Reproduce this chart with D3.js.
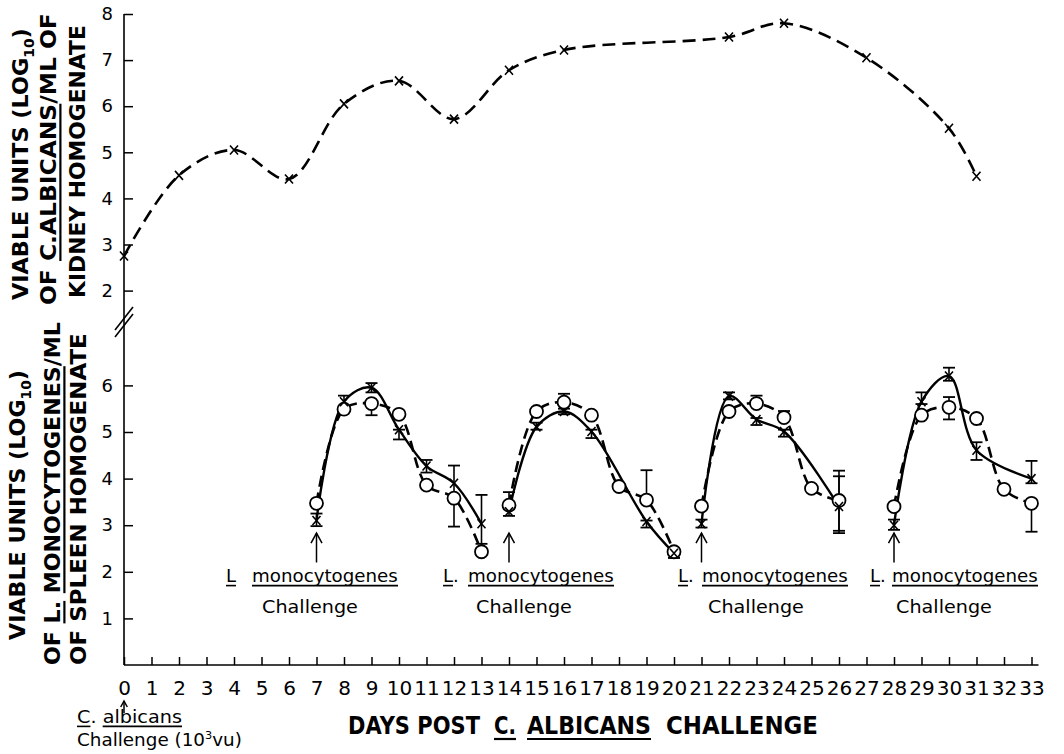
<!DOCTYPE html>
<html>
<head>
<meta charset="utf-8">
<script src="https://cdn.jsdelivr.net/npm/d3@7"></script>
<style>
  body { margin: 0; background: #fff; }
  svg { display: block; }
  text { font-family: "DejaVu Sans", sans-serif; fill: #000; }
</style>
</head>
<body>
<div id="vis"></div>
<script>
const WIDTH = 1064;
const HEIGHT = 754;

// C. albicans in kidney, log10 viable units
const kidneyDays = [0, 2, 4, 6, 8, 10, 12, 14, 16, 22, 24, 27, 30, 31];
const kidneyLog = [2.75, 4.5, 5.05, 4.42, 6.05, 6.55, 5.72, 6.78, 7.22, 7.5, 7.8, 7.05, 5.52, 4.48];

// L. monocytogenes in spleen, one row per challenge
const clusterDays = [
  [7, 8, 9, 10, 11, 12, 13],
  [14, 15, 16, 17, 18, 19, 20],
  [21, 22, 23, 24, 25, 26],
  [28, 29, 30, 31, 32, 33],
];
// "x" series (solid line)
const spleenX = [
  [3.1, 5.65, 5.95, 5.05, 4.27, 3.9, 3.03],
  [3.29, 5.11, 5.44, 5.01, null, 3.08, 2.4],
  [3.03, 5.77, 5.27, 5.01, null, 3.4],
  [3.0, 5.65, 6.2, 4.61, null, 4.0],
];
// "o" series (dashed line)
const spleenO = [
  [3.47, 5.49, 5.61, 5.38, 3.86, 3.58, 2.43],
  [3.43, 5.44, 5.64, 5.36, 3.83, 3.54, 2.43],
  [3.41, 5.44, 5.61, 5.31, 3.79, 3.53],
  [3.4, 5.36, 5.53, 5.29, 3.77, 3.47],
];
// error bars [low, high]
const spleenXErr = [
  [[2.98, 3.25], [5.55, 5.78], [5.85, 6.05], [4.84, 5.05], [4.13, 4.4], null, [2.5, 3.65]],
  [[3.2, 3.35], [5.05, 5.2], [5.38, 5.5], [4.87, 5.05], null, [2.95, 3.1], [2.3, 2.5]],
  [[2.95, 3.12], [5.7, 5.85], [5.15, 5.3], [4.9, 5.05], null, [2.88, 4.05]],
  [[2.9, 3.12], [5.6, 5.85], [6.1, 6.38], [4.4, 4.78], null, [3.9, 4.38]],
];
const spleenOErr = [
  [null, null, [5.36, 5.61], null, null, [2.97, 4.28], [2.43, 2.6]],
  [[3.43, 3.71], null, [5.64, 5.82], null, null, [3.54, 4.18], [2.3, 2.5]],
  [null, null, [5.61, 5.78], [5.31, 5.45], null, [2.83, 4.17]],
  [null, null, [5.27, 5.75], null, null, [2.86, 3.47]],
];

const challengeDays = [7, 14, 21, 28];
const dayTicks = [0, 1, 2, 3, 4, 5, 6, 7, 8, 9, 10, 11, 12, 13, 14, 15, 16,
  17, 18, 19, 20, 21, 22, 23, 24, 25, 26, 27, 28, 29, 30, 31, 32, 33];
const kidneyTicks = [2, 3, 4, 5, 6, 7, 8];
const spleenTicks = [1, 2, 3, 4, 5, 6];

const x = d3.scaleLinear().domain([0, 33]).range([124, 1031.5]);
const yK = d3.scaleLinear().domain([2, 8]).range([290.6, 14]);
const yS = d3.scaleLinear().domain([0, 6]).range([665, 385.4]);

const svg = d3
  .select("#vis")
  .append("svg")
  .attr("width", WIDTH)
  .attr("height", HEIGHT);

svg.append("rect").attr("width", WIDTH).attr("height", HEIGHT).attr("fill", "#fff");

// text with tspans, optional underlines / sub / superscripts
// opts.length squeezes the whole group horizontally to that width
function richText(parent, segs, opts) {
  const g = parent.append("g");
  const t = g
    .append("text")
    .attr("font-size", opts.size)
    .attr("font-weight", opts.weight || "normal");
  let shift = 0;
  const ranges = [];
  let idx = 0;
  segs.forEach((s) => {
    const ts = t.append("tspan").text(s.t);
    let d = -shift;
    shift = 0;
    if (s.sub) { ts.attr("font-size", opts.size * 0.62); shift = opts.size * 0.25; }
    if (s.sup) { ts.attr("font-size", opts.size * 0.62); shift = -opts.size * 0.42; }
    d += shift;
    if (d !== 0) ts.attr("dy", d);
    if (s.u) ranges.push([idx, idx + s.t.length - 1]);
    idx += s.t.length;
  });
  const node = t.node();
  ranges.forEach(([a, b]) => {
    const x0 = node.getStartPositionOfChar(a).x;
    const x1 = node.getEndPositionOfChar(b).x;
    g.append("line")
      .attr("x1", x0).attr("x2", x1)
      .attr("y1", opts.size * 0.2).attr("y2", opts.size * 0.2)
      .attr("stroke", "#000")
      .attr("stroke-width", opts.uw || 1.6);
  });
  const k = opts.length ? opts.length / node.getComputedTextLength() : 1;
  g.attr("transform", `translate(${opts.x},${opts.y})` + (opts.rotate ? " rotate(-90)" : "") + ` scale(${k},1)`);
  return g;
}

// axes lines
svg.append("line").attr("x1", x(0)).attr("x2", x(0)).attr("y1", yK(8)).attr("y2", yS(0))
  .attr("stroke", "#000").attr("stroke-width", 1.6);
svg.append("line").attr("x1", x(0)).attr("x2", x(33) + 7).attr("y1", yS(0)).attr("y2", yS(0))
  .attr("stroke", "#000").attr("stroke-width", 1.6);

// axis break
[0, 7].forEach((o) => {
  svg.append("line")
    .attr("x1", x(0) - 9).attr("y1", 330 + o)
    .attr("x2", x(0) + 9).attr("y2", 307 + o)
    .attr("stroke", "#000").attr("stroke-width", 1.6);
});

function styleAxis(g, size) {
  g.select(".domain").remove();
  g.attr("font-family", "DejaVu Sans").attr("font-size", size);
  g.selectAll(".tick line").attr("stroke-width", 1.5);
}

svg.append("g")
  .attr("transform", `translate(${x(0)},0)`)
  .call(d3.axisLeft(yK).tickValues(kidneyTicks).tickSize(-9).tickPadding(11).tickFormat(d3.format("d")))
  .call((g) => styleAxis(g, 18));

svg.append("g")
  .attr("transform", `translate(${x(0)},0)`)
  .call(d3.axisLeft(yS).tickValues(spleenTicks).tickSize(-9).tickPadding(11).tickFormat(d3.format("d")))
  .call((g) => styleAxis(g, 18));

svg.append("g")
  .attr("transform", `translate(0,${yS(0)})`)
  .call(d3.axisBottom(x).tickValues(dayTicks).tickSize(-8).tickPadding(16).tickFormat(d3.format("d")))
  .call((g) => styleAxis(g, 20));

// arrow under day 0
function arrow(cx, top, bottom, head) {
  svg.append("line").attr("x1", cx).attr("x2", cx).attr("y1", top).attr("y2", bottom)
    .attr("stroke", "#000").attr("stroke-width", 1.5);
  svg.append("path")
    .attr("d", `M${cx - head * 0.55},${top + head} L${cx},${top} L${cx + head * 0.55},${top + head}`)
    .attr("fill", "none").attr("stroke", "#000").attr("stroke-width", 1.5);
}
arrow(x(0), 701, 713, 6);

// kidney curve
const kidney = kidneyDays.map((d, i) => ({ day: d, v: kidneyLog[i] }));
svg.append("path")
  .datum(kidney)
  .attr("d", d3.line().x((d) => x(d.day)).y((d) => yK(d.v)).curve(d3.curveCatmullRom.alpha(0.5)))
  .attr("fill", "none")
  .attr("stroke", "#000")
  .attr("stroke-width", 2.6)
  .attr("stroke-dasharray", "13,7");

const xMark = "M-4,-4.5L4,4.5M-4,4.5L4,-4.5";
svg.append("g")
  .selectAll("path")
  .data(kidney)
  .enter()
  .append("path")
  .attr("transform", (d) => `translate(${x(d.day)},${yK(d.v)})`)
  .attr("d", xMark)
  .attr("fill", "none")
  .attr("stroke", "#000")
  .attr("stroke-width", 1.6);

// spleen clusters
const spleenLine = d3.line().x((d) => x(d.day)).y((d) => yS(d.v)).curve(d3.curveCatmullRom.alpha(0.5));

clusterDays.forEach((days, c) => {
  const xs = days.map((d, i) => ({ day: d, v: spleenX[c][i], err: spleenXErr[c][i] })).filter((d) => d.v != null);
  const os = days.map((d, i) => ({ day: d, v: spleenO[c][i], err: spleenOErr[c][i] })).filter((d) => d.v != null);
  const g = svg.append("g").attr("class", `cluster-${c}`);

  // error bars
  xs.concat(os).filter((d) => d.err).forEach((d) => {
    const cx = x(d.day);
    g.append("line").attr("x1", cx).attr("x2", cx).attr("y1", yS(d.err[0])).attr("y2", yS(d.err[1]))
      .attr("stroke", "#000").attr("stroke-width", 1.6);
    d.err.forEach((e) => {
      g.append("line").attr("x1", cx - 6).attr("x2", cx + 6).attr("y1", yS(e)).attr("y2", yS(e))
        .attr("stroke", "#000").attr("stroke-width", 1.8);
    });
  });

  g.append("path").datum(xs).attr("d", spleenLine)
    .attr("fill", "none").attr("stroke", "#000").attr("stroke-width", 2.4);
  g.append("path").datum(os).attr("d", spleenLine)
    .attr("fill", "none").attr("stroke", "#000").attr("stroke-width", 2.6)
    .attr("stroke-dasharray", "11,6");

  g.selectAll("circle").data(os).enter().append("circle")
    .attr("cx", (d) => x(d.day)).attr("cy", (d) => yS(d.v)).attr("r", 6.5)
    .attr("fill", "#fff").attr("stroke", "#000").attr("stroke-width", 1.8);
  g.selectAll(".xm").data(xs).enter().append("path")
    .attr("class", "xm")
    .attr("transform", (d) => `translate(${x(d.day)},${yS(d.v)})`)
    .attr("d", xMark).attr("fill", "none").attr("stroke", "#000").attr("stroke-width", 1.6);
});

// challenge arrows and labels
challengeDays.forEach((d) => arrow(x(d), yS(2.83), yS(2.2), 10));

const annot = [
  { l: "L", lx: 226, mx: 252, cx: 310 },
  { l: "L.", lx: 443, mx: 468, cx: 524 },
  { l: "L.", lx: 678, mx: 702, cx: 756 },
  { l: "L.", lx: 870, mx: 892, cx: 944 },
];
annot.forEach((a) => {
  richText(svg, [{ t: a.l[0], u: true }, { t: a.l.slice(1) }], { x: a.lx, y: 582, size: 18 });
  richText(svg, [{ t: "monocytogenes", u: true }], { x: a.mx, y: 582, size: 18, length: 146 });
  richText(svg, [{ t: "Challenge" }], { x: a.cx - 48, y: 613, size: 18, length: 96 });
});

// y titles
const log10 = [{ t: "VIABLE UNITS (LOG" }, { t: "10", sub: true }, { t: ")" }];
const bold = { size: 22, weight: "bold", rotate: true, uw: 2.2 };
richText(svg, log10, { ...bold, x: 28, y: 300, length: 272 });
richText(svg, [{ t: "OF " }, { t: "C.", u: true }, { t: "ALBICANS", u: true }, { t: "/ML OF" }], { ...bold, x: 56, y: 305, length: 292 });
richText(svg, [{ t: "KIDNEY HOMOGENATE" }], { ...bold, x: 85, y: 298, length: 273 });
richText(svg, log10, { ...bold, x: 25, y: 640, length: 270 });
richText(svg, [{ t: "OF " }, { t: "L.", u: true }, { t: " " }, { t: "MONOCYTOGENES", u: true }, { t: "/ML" }], { ...bold, x: 60, y: 665, length: 343 });
richText(svg, [{ t: "OF SPLEEN HOMOGENATE" }], { ...bold, x: 86, y: 665, length: 332 });

// x title, word by word
const xTitle = { y: 734, size: 25, weight: "bold", uw: 2.2 };
richText(svg, [{ t: "DAYS POST" }], { ...xTitle, x: 348, length: 132 });
richText(svg, [{ t: "C.", u: true }], { ...xTitle, x: 494, length: 22 });
richText(svg, [{ t: "ALBICANS", u: true }], { ...xTitle, x: 527, length: 124 });
richText(svg, [{ t: "CHALLENGE" }], { ...xTitle, x: 666, length: 152 });

// day 0 note
richText(svg, [{ t: "C", u: true }, { t: ". " }, { t: "albicans", u: true }], { x: 77, y: 723, size: 17, length: 105 });
richText(svg, [{ t: "Challenge (10" }, { t: "3", sup: true }, { t: "vu)" }], { x: 77, y: 746, size: 17, length: 165 });
</script>
</body>
</html>
